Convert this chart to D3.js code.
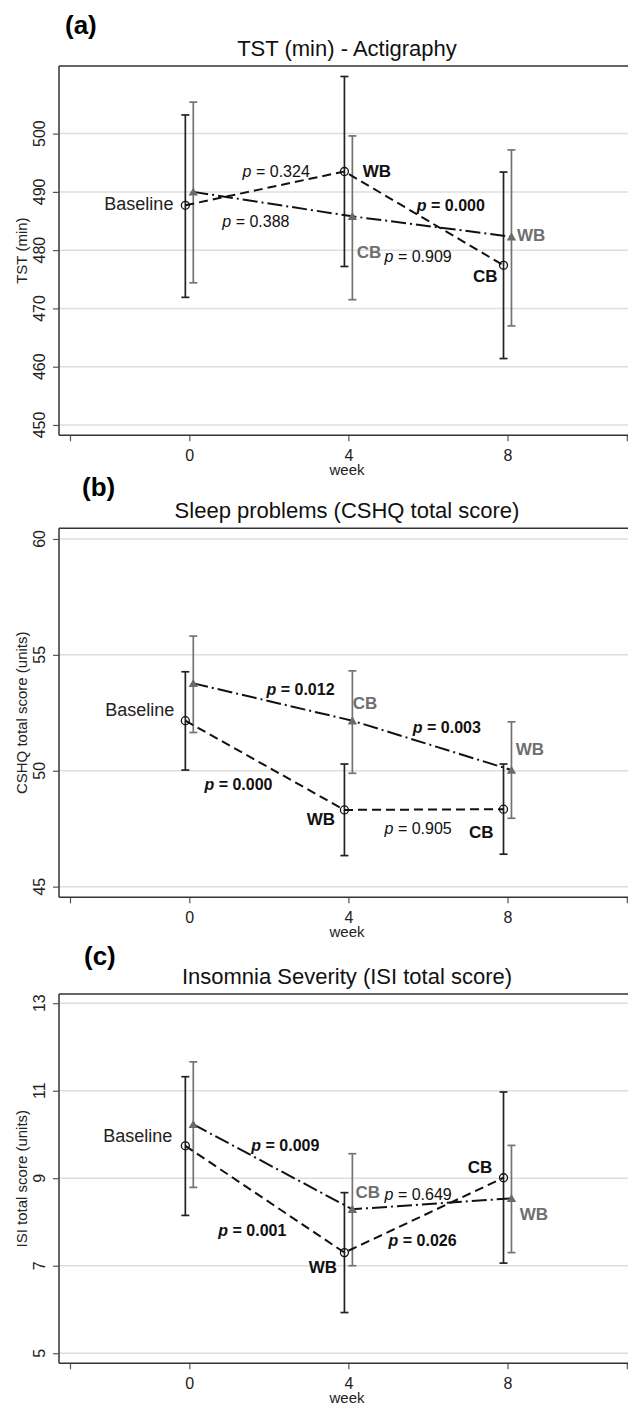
<!DOCTYPE html>
<html>
<head>
<meta charset="utf-8">
<script src="https://cdn.jsdelivr.net/npm/d3@7"></script>
<style>
  body { margin: 0; background: #fff; }
  svg { display: block; }
  text { font-family: "Liberation Sans", Arial, sans-serif; }
</style>
</head>
<body>
<script>
// x axis
const weeks = [0, 4, 8];
const xTicks = [-3, 0, 4, 8, 11];
const xTickLabels = ['', '0', '4', '8', ''];

// (a) TST - actigraphy
const tstTicks = [450, 460, 470, 480, 490, 500];
const tstCircMean = [487.7, 493.5, 477.4];
const tstCircLo = [471.9, 477.2, 461.4];
const tstCircHi = [503.2, 509.8, 493.4];
const tstTriMean = [490.0, 485.8, 482.3];
const tstTriLo = [474.4, 471.5, 467.0];
const tstTriHi = [505.4, 499.6, 497.2];

// (b) CSHQ total score
const cshqTicks = [45, 50, 55, 60];
const cshqCircMean = [52.16, 48.31, 48.34];
const cshqCircLo = [50.03, 46.34, 46.40];
const cshqCircHi = [54.27, 50.29, 50.29];
const cshqTriMean = [53.77, 52.16, 50.03];
const cshqTriLo = [51.65, 49.89, 47.95];
const cshqTriHi = [55.81, 54.31, 52.11];

// (c) ISI total score
const isiTicks = [5, 7, 9, 11, 13];
const isiCircMean = [9.74, 7.30, 9.01];
const isiCircLo = [8.15, 5.93, 7.06];
const isiCircHi = [11.32, 8.67, 10.97];
const isiTriMean = [10.23, 8.29, 8.54];
const isiTriLo = [8.79, 7.00, 7.30];
const isiTriHi = [11.66, 9.56, 9.75];

// annotations: [text, week, value, kind]
const tstNotes = [
  ['Baseline', -0.40, 486.9, 'base'],
  ['0.324', 1.34, 492.5, 'p'],
  ['WB', 4.36, 492.5, 'blk'],
  ['0.000', 5.72, 486.7, 'pb'],
  ['0.388', 0.83, 483.9, 'p'],
  ['WB', 8.24, 481.6, 'gry'],
  ['CB', 4.21, 478.7, 'gry'],
  ['0.909', 4.91, 478.0, 'p'],
  ['CB', 7.13, 474.6, 'blk']
];
const cshqNotes = [
  ['Baseline', -0.38, 52.38, 'base'],
  ['0.012', 1.94, 53.25, 'pb'],
  ['CB', 4.11, 52.65, 'gry'],
  ['0.003', 5.62, 51.64, 'pb'],
  ['WB', 8.21, 50.66, 'gry'],
  ['0.000', 0.38, 49.17, 'pb'],
  ['WB', 2.95, 47.65, 'blk'],
  ['0.905', 4.91, 47.25, 'p'],
  ['CB', 7.03, 47.11, 'blk']
];
const isiNotes = [
  ['Baseline', -0.43, 9.83, 'base'],
  ['0.009', 1.56, 9.63, 'pb'],
  ['0.001', 0.73, 7.67, 'pb'],
  ['WB', 3.0, 6.84, 'blk'],
  ['CB', 4.18, 8.54, 'gry'],
  ['0.649', 4.91, 8.51, 'p'],
  ['CB', 7.0, 9.13, 'blk'],
  ['WB', 8.31, 8.04, 'gry'],
  ['0.026', 5.01, 7.46, 'pb']
];

const W = 628, H = 1407;
const GRAY = '#737373';
const svg = d3.select('body').append('svg').attr('width', W).attr('height', H);

const x = d3.scaleLinear().domain([-3, 11]).range([70, 626.8]);
const frameLeft = 59;

function drawPanel(cfg) {
  const y = d3.scaleLinear().domain(cfg.domain).range([cfg.bottom, cfg.top]);
  const g = svg.append('g');

  // panel letter and title
  g.append('text').attr('x', cfg.letterX).attr('y', cfg.letterY)
    .attr('font-family', 'Lato, "Open Sans", sans-serif').attr('font-weight', 'bold')
    .attr('font-size', 26).text(cfg.letter);
  g.append('text').attr('x', 347).attr('y', cfg.top - 10)
    .attr('text-anchor', 'middle').attr('font-size', 22).attr('fill', '#111').text(cfg.title);

  // gridlines
  g.selectAll('.grid').data(cfg.ticks).join('line')
    .attr('x1', frameLeft).attr('x2', W)
    .attr('y1', d => y(d)).attr('y2', d => y(d))
    .attr('stroke', '#dedede').attr('stroke-width', 1.5);

  // frame top
  g.append('line').attr('x1', frameLeft).attr('x2', W)
    .attr('y1', cfg.top).attr('y2', cfg.top)
    .attr('stroke', '#333').attr('stroke-width', 1.5);

  // y axis
  const ya = g.append('g').attr('transform', `translate(${frameLeft},0)`)
    .call(d3.axisLeft(y).tickValues(cfg.ticks).tickSize(6).tickSizeOuter(0).tickFormat(''));
  ya.select('.domain').attr('stroke', '#333').attr('stroke-width', 1.5)
    .attr('d', `M0,${cfg.top}V${cfg.bottom}`);
  ya.selectAll('.tick line').attr('stroke', '#555').attr('stroke-width', 1.2);
  g.selectAll('.ylab').data(cfg.ticks).join('text')
    .attr('transform', d => `translate(45,${y(d)}) rotate(-90)`)
    .attr('text-anchor', 'middle').attr('font-size', 16).attr('fill', '#222')
    .text(d => d);
  g.append('text')
    .attr('transform', `translate(27,${(cfg.top + cfg.bottom) / 2}) rotate(-90)`)
    .attr('text-anchor', 'middle').attr('font-size', 15).attr('fill', '#222')
    .text(cfg.ytitle);

  // x axis
  const xa = g.append('g').attr('transform', `translate(0,${cfg.bottom})`)
    .call(d3.axisBottom(x).tickValues(xTicks).tickSize(6).tickSizeOuter(0)
      .tickFormat((d, i) => xTickLabels[i]));
  xa.select('.domain').remove();
  xa.selectAll('.tick line').attr('stroke', '#555').attr('stroke-width', 1.2);
  xa.selectAll('.tick text').attr('y', 14).attr('font-size', 16)
    .attr('font-family', '"Liberation Sans", Arial, sans-serif').attr('fill', '#222');
  g.append('line').attr('x1', frameLeft).attr('x2', W)
    .attr('y1', cfg.bottom).attr('y2', cfg.bottom)
    .attr('stroke', '#333').attr('stroke-width', 1.5);
  g.append('text').attr('x', 347).attr('y', cfg.bottom + 40)
    .attr('text-anchor', 'middle').attr('font-size', 15).attr('fill', '#222').text('week');

  // series
  const series = [
    { mean: cfg.circ[0], lo: cfg.circ[1], hi: cfg.circ[2], off: -0.1, color: '#222', dash: '9,5', marker: 'circle' },
    { mean: cfg.tri[0], lo: cfg.tri[1], hi: cfg.tri[2], off: 0.1, color: GRAY, dash: '15,4,2,4', marker: 'tri' }
  ];

  series.forEach(s => {
    const eb = g.append('g').attr('stroke', s.color).attr('stroke-width', 1.7);
    weeks.forEach((w, i) => {
      const px = x(w + s.off);
      eb.append('line').attr('x1', px).attr('x2', px).attr('y1', y(s.lo[i])).attr('y2', y(s.hi[i]));
      eb.append('line').attr('x1', px - 4).attr('x2', px + 4).attr('y1', y(s.lo[i])).attr('y2', y(s.lo[i]));
      eb.append('line').attr('x1', px - 4).attr('x2', px + 4).attr('y1', y(s.hi[i])).attr('y2', y(s.hi[i]));
    });
  });

  series.forEach(s => {
    const line = d3.line().x((d, i) => x(weeks[i] + s.off)).y(d => y(d));
    g.append('path').attr('d', line(s.mean)).attr('fill', 'none')
      .attr('stroke', '#111').attr('stroke-width', 2).attr('stroke-dasharray', s.dash);
  });

  series.forEach(s => {
    if (s.marker === 'circle') {
      g.selectAll(null).data(s.mean).join('circle')
        .attr('cx', (d, i) => x(weeks[i] + s.off)).attr('cy', d => y(d)).attr('r', 4)
        .attr('fill', 'none').attr('stroke', '#111').attr('stroke-width', 1.3);
    } else {
      g.selectAll(null).data(s.mean).join('path')
        .attr('d', d3.symbol(d3.symbolTriangle, 38))
        .attr('transform', (d, i) => `translate(${x(weeks[i] + s.off)},${y(d) + 1})`)
        .attr('fill', '#6a6a6a');
    }
  });

  // annotations
  cfg.notes.forEach(([txt, w, v, kind]) => {
    const t = g.append('text').attr('x', x(w)).attr('y', y(v));
    if (kind === 'base') {
      t.attr('text-anchor', 'end').attr('font-size', 18).attr('fill', '#222').text(txt);
    } else if (kind === 'blk' || kind === 'gry') {
      t.attr('font-size', 17).attr('font-weight', 'bold')
        .attr('fill', kind === 'blk' ? '#111' : '#6f6f6f').text(txt);
    } else {
      t.attr('font-size', 16).attr('fill', '#111').attr('font-weight', kind === 'pb' ? 'bold' : 'normal');
      t.append('tspan').attr('font-style', 'italic').text('p');
      t.append('tspan').text(' = ' + txt);
    }
  });
}

drawPanel({
  letter: '(a)', letterX: 65, letterY: 34,
  title: 'TST (min) - Actigraphy', ytitle: 'TST (min)',
  top: 66, bottom: 435.3, domain: [448.23, 511.6], ticks: tstTicks,
  circ: [tstCircMean, tstCircLo, tstCircHi], tri: [tstTriMean, tstTriLo, tstTriHi],
  notes: tstNotes
});
drawPanel({
  letter: '(b)', letterX: 82, letterY: 496,
  title: 'Sleep problems (CSHQ total score)', ytitle: 'CSHQ total score (units)',
  top: 528.3, bottom: 897.3, domain: [44.54, 60.46], ticks: cshqTicks,
  circ: [cshqCircMean, cshqCircLo, cshqCircHi], tri: [cshqTriMean, cshqTriLo, cshqTriHi],
  notes: cshqNotes
});
drawPanel({
  letter: '(c)', letterX: 84, letterY: 965,
  title: 'Insomnia Severity (ISI total score)', ytitle: 'ISI total score (units)',
  top: 994, bottom: 1363.3, domain: [4.77, 13.21], ticks: isiTicks,
  circ: [isiCircMean, isiCircLo, isiCircHi], tri: [isiTriMean, isiTriLo, isiTriHi],
  notes: isiNotes
});
</script>
</body>
</html>
